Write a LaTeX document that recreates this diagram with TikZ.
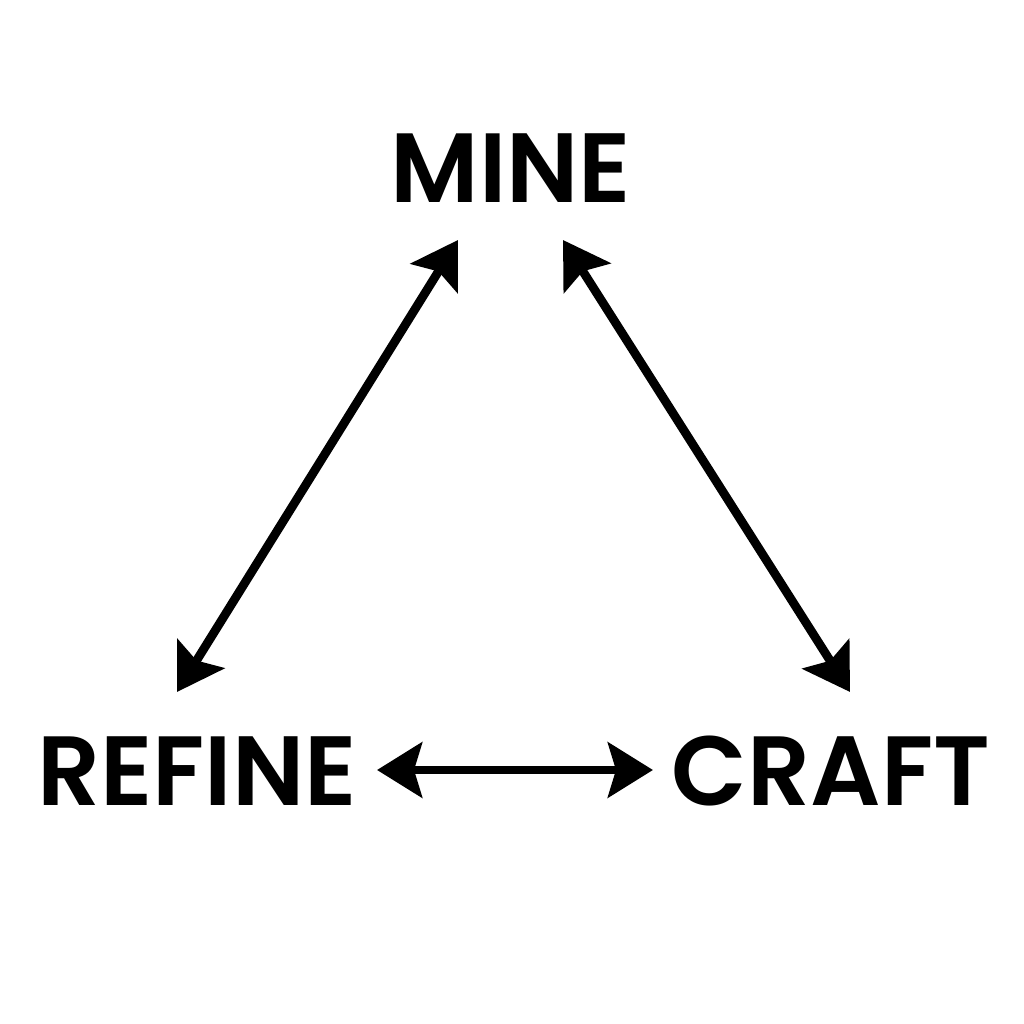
\documentclass[tikz,border=0pt]{standalone}
\usepackage{fontspec}
\setmainfont{Poppins}[BoldFont={Poppins SemiBold}]
\usetikzlibrary{arrows.meta}

\begin{document}
\begin{tikzpicture}[font=\bfseries]
	\tikzstyle{WordStyle}=[inner sep = 0pt, font = \fontsize{28}{32}\selectfont\bfseries]
	\tikzstyle{LinkStyle}=[line width = 2.5pt, {Stealth[length=0.45cm, width=0.55cm, inset=0.08cm]}-{Stealth[length=0.45cm, width=0.55cm, inset=0.08cm]}]
	\useasboundingbox (0,0) rectangle (10.24,10.24);
	\node[WordStyle] (mine) at (5.11, 8.56) {MINE};
	\node[WordStyle] (refine) at (1.97, 2.53) {REFINE};
	\node[WordStyle] (craft) at (8.31, 2.53) {CRAFT};
	% arrow ends
	\coordinate (mineL) at (4.58, 7.84);
	\coordinate (mineR) at (5.63, 7.84);
	\coordinate (refineT) at (1.77, 3.32);
	\coordinate (craftT) at (8.50, 3.32);
	\coordinate (refineR) at (3.77, 2.54);
	\coordinate (craftL) at (6.53, 2.54);
	\draw[LinkStyle] (mineL) -- (refineT);
	\draw[LinkStyle] (mineR) -- (craftT);
	\draw[LinkStyle] (refineR) -- (craftL);
\end{tikzpicture}
\end{document}
